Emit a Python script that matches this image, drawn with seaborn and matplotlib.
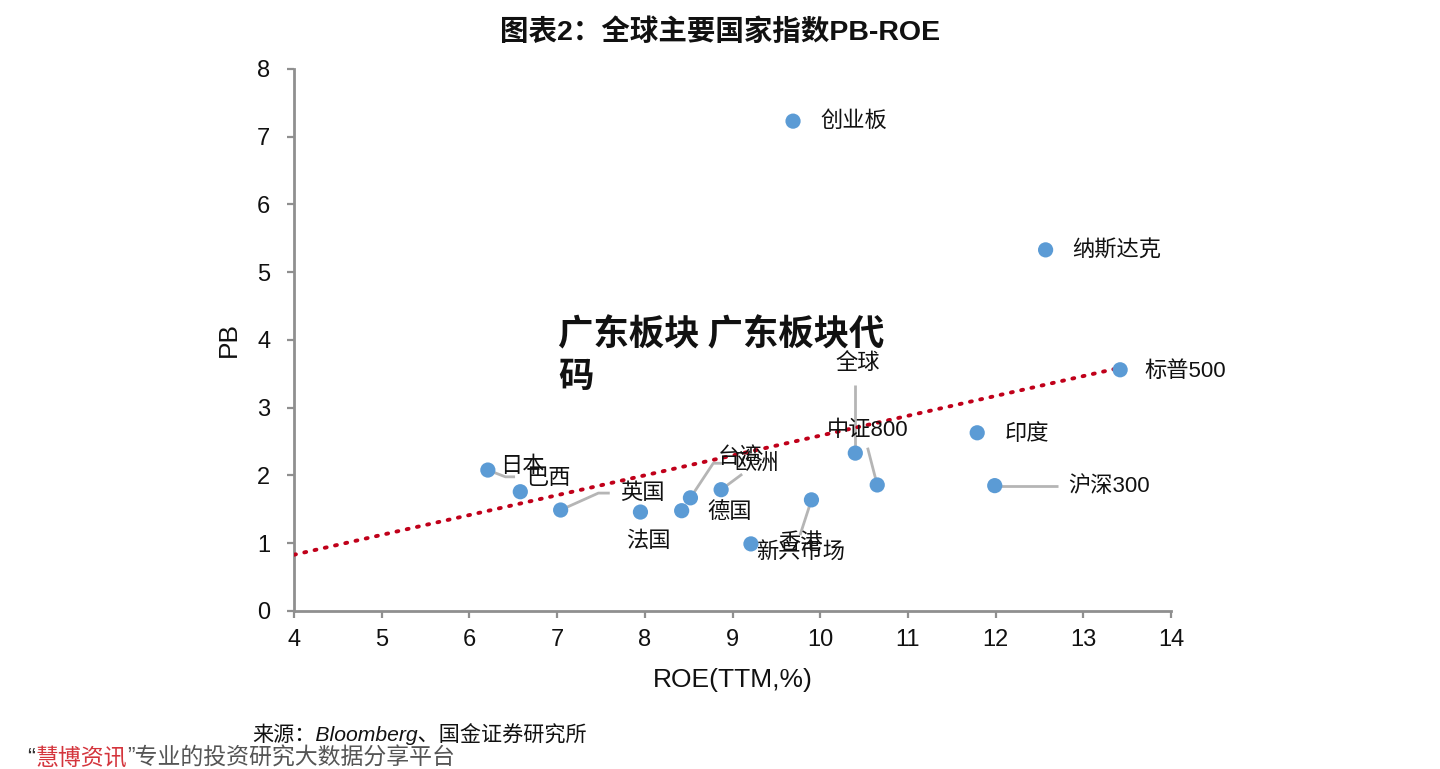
import matplotlib
matplotlib.use("Agg")
import matplotlib.pyplot as plt
import seaborn as sns
import pandas as pd

# ---------------- data ----------------
names = ["创业板", "纳斯达克", "标普500", "印度", "沪深300", "全球", "中证800", "香港",
         "新兴市场", "欧洲", "台湾", "德国", "法国", "英国", "巴西", "日本"]
roe = [9.69, 12.57, 13.42, 11.79, 11.99, 10.40, 10.65, 9.90,
       9.21, 8.87, 8.52, 8.42, 7.95, 7.04, 6.58, 6.21]
pb = [7.23, 5.33, 3.56, 2.63, 1.85, 2.33, 1.86, 1.64,
      0.99, 1.79, 1.67, 1.48, 1.46, 1.49, 1.76, 2.08]
trend_x = [4.0, 13.42]
trend_y = [0.83, 3.59]
x_ticks = [4, 5, 6, 7, 8, 9, 10, 11, 12, 13, 14]
y_ticks = [0, 1, 2, 3, 4, 5, 6, 7, 8]

title = "图表2：全球主要国家指数PB-ROE"
x_label = "ROE(TTM,%)"
y_label = "PB"
overlay_text = "广东板块 广东板块代\n码"
source_text = "来源：Bloomberg、国金证券研究所"

# label placement (data coords) and alignment, plus leader lines
label_pos = {
    "创业板": (10.00, 7.22, "left"),
    "纳斯达克": (12.87, 5.31, "left"),
    "标普500": (13.70, 3.54, "left"),
    "印度": (12.10, 2.61, "left"),
    "沪深300": (12.83, 1.83, "left"),
    "全球": (10.43, 3.66, "center"),
    "中证800": (10.54, 2.66, "center"),
    "香港": (9.77, 1.00, "center"),
    "新兴市场": (9.78, 0.86, "center"),
    "欧洲": (9.28, 2.18, "center"),
    "台湾": (9.09, 2.27, "center"),
    "德国": (8.97, 1.46, "center"),
    "法国": (8.04, 1.02, "center"),
    "英国": (7.97, 1.74, "center"),
    "巴西": (6.90, 1.96, "center"),
    "日本": (6.60, 2.13, "center"),
}
leaders = {
    "沪深300": [(12.71, 1.85)],
    "全球": [(10.40, 3.34)],
    "中证800": [(10.54, 2.41)],
    "香港": [(9.77, 1.12)],
    "欧洲": [(9.11, 2.02)],
    "台湾": [(8.78, 2.18), (8.89, 2.18)],
    "英国": [(7.47, 1.74), (7.60, 1.74)],
    "日本": [(6.41, 1.98), (6.52, 1.98)],
}

df = pd.DataFrame({"name": names, "ROE": roe, "PB": pb})
trend = pd.DataFrame({"x": trend_x, "y": trend_y})

# ---------------- style ----------------
sns.set_theme(style="white")
plt.rcParams["font.family"] = ["Liberation Sans", "Noto Sans CJK SC", "DejaVu Sans"]
cjk = ["Liberation Sans", "Noto Sans CJK SC", "DejaVu Sans"]

fig = plt.figure(figsize=(14.4, 7.69), dpi=100)
ax = fig.add_axes([0.2042, 0.2055, 0.609, 0.7048])

spine_c = "#8f8f8f"
# leader lines
for n, pts in leaders.items():
    i = names.index(n)
    xs = [roe[i]] + [p[0] for p in pts]
    ys = [pb[i]] + [p[1] for p in pts]
    ax.plot(xs, ys, color="#b5b5b5", lw=2.0, zorder=2, solid_capstyle="butt")

sns.lineplot(data=trend, x="x", y="y", ax=ax, color="#c0001a", lw=2.8,
             linestyle=(0, (0.5, 2.2)), zorder=3)
ax.lines[-1].set_dash_capstyle("round")

sns.scatterplot(data=df, x="ROE", y="PB", ax=ax, s=120, color="#5b9bd5",
                edgecolor="none", zorder=4)

for n in names:
    tx, ty, ha = label_pos[n]
    ax.text(tx, ty, n, ha=ha, va="center", fontsize=16, family=cjk,
            color="#111111", zorder=5)

ax.set_xlim(4, 14)
ax.set_ylim(0, 8)
ax.set_xticks(x_ticks)
ax.set_yticks(y_ticks)
ax.tick_params(axis="both", direction="out", length=5, width=1.6, color=spine_c,
               labelsize=17, labelcolor="#111111")
ax.tick_params(axis="x", pad=8)
ax.tick_params(axis="y", pad=12)
ax.xaxis.set_ticks_position("bottom")
ax.yaxis.set_ticks_position("left")
sns.despine(ax=ax)
for s in ["left", "bottom"]:
    ax.spines[s].set_color(spine_c)
    ax.spines[s].set_linewidth(2.0)

ax.set_xlabel(x_label, fontsize=19, color="#111111", labelpad=12)
ax.set_ylabel(y_label, fontsize=19, color="#111111", labelpad=12)

fig.text(0.5, 0.958, title, ha="center", va="center", fontsize=20.5,
         fontweight="bold", family=["Liberation Sans", "Noto Sans CJK SC"], color="#111111")

fig.text(0.3875, 0.5375, overlay_text, ha="left", va="center", fontsize=25.5,
         fontweight="heavy", family=["Noto Sans CJK SC"], color="#111111",
         linespacing=1.25)

fig.text(0.175, 0.045, source_text, ha="left", va="center", fontsize=15.2,
         style="italic", family=cjk, color="#111111")

# bottom banner
y0 = 0.014
t1 = fig.text(0.019, y0, "“", ha="left", va="center", fontsize=17, family=cjk, color="#333333")
fig.canvas.draw()
r = fig.canvas.get_renderer()
bb = t1.get_window_extent(r)
t2 = fig.text(bb.x1 / 1440, y0, "慧博资讯", ha="left", va="center", fontsize=16.5,
              family=cjk, color="#d4343c")
bb = t2.get_window_extent(r)
t3 = fig.text(bb.x1 / 1440, y0, "”专业的投资研究大数据分享平台", ha="left", va="center",
              fontsize=16.5, family=cjk, color="#555555")

fig.savefig("out.png", dpi=100)
